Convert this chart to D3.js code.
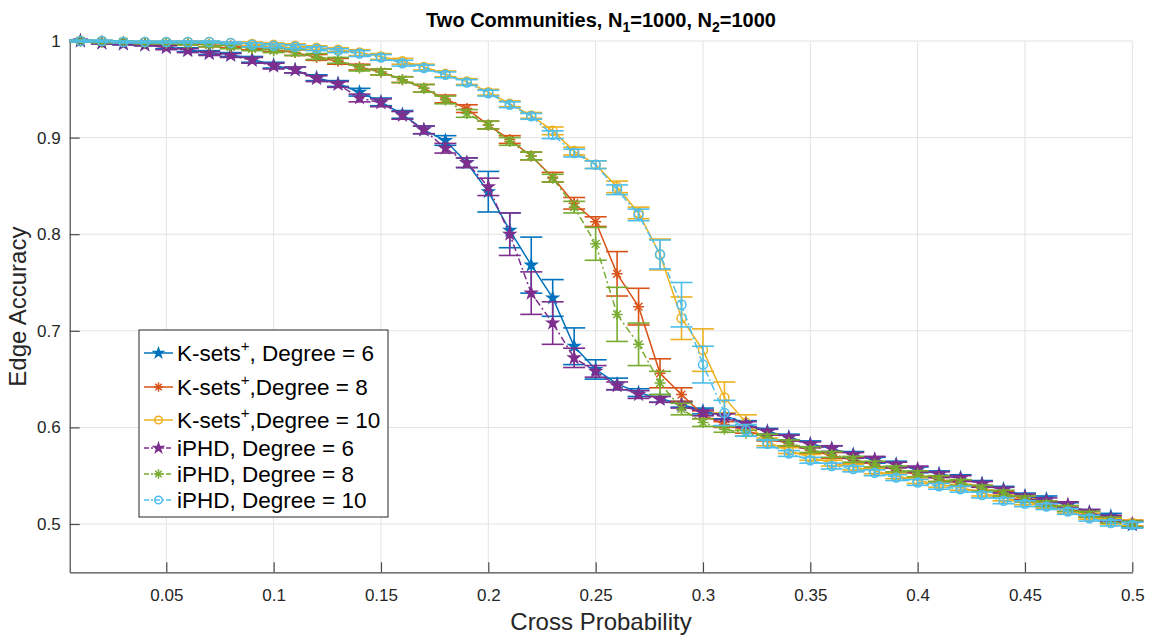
<!DOCTYPE html>
<html><head><meta charset="utf-8">
<script src="https://cdn.jsdelivr.net/npm/d3@7"></script>
<style>body{margin:0;background:#fff}svg{display:block}text{font-family:"Liberation Sans",Arial,Helvetica,sans-serif}</style>
</head><body><svg id="c" width="1151" height="635"></svg>
<script>
const xValues = [0.01,0.02,0.03,0.04,0.05,0.06,0.07,0.08,0.09,0.10,0.11,0.12,0.13,0.14,0.15,0.16,0.17,0.18,0.19,0.20,0.21,0.22,0.23,0.24,0.25,0.26,0.27,0.28,0.29,0.30,0.31,0.32,0.33,0.34,0.35,0.36,0.37,0.38,0.39,0.40,0.41,0.42,0.43,0.44,0.45,0.46,0.47,0.48,0.49,0.50];
const kset6 = [1.000,0.998,0.997,0.996,0.994,0.991,0.988,0.986,0.981,0.975,0.970,0.962,0.956,0.947,0.937,0.924,0.908,0.897,0.874,0.844,0.804,0.768,0.734,0.684,0.660,0.645,0.636,0.630,0.624,0.617,0.612,0.604,0.596,0.590,0.583,0.578,0.572,0.566,0.562,0.556,0.552,0.548,0.542,0.536,0.529,0.526,0.519,0.512,0.508,0.499];
const kset6Err = [0.001,0.001,0.001,0.001,0.002,0.002,0.002,0.002,0.003,0.003,0.003,0.003,0.003,0.004,0.004,0.004,0.004,0.005,0.005,0.021,0.018,0.029,0.019,0.019,0.010,0.006,0.004,0.004,0.003,0.003,0.003,0.003,0.003,0.003,0.003,0.003,0.003,0.003,0.003,0.003,0.003,0.003,0.003,0.003,0.003,0.003,0.003,0.003,0.003,0.003];
const kset8 = [1.000,0.999,0.999,0.998,0.998,0.997,0.996,0.995,0.993,0.991,0.988,0.983,0.979,0.973,0.968,0.960,0.951,0.940,0.930,0.913,0.898,0.881,0.859,0.832,0.813,0.759,0.725,0.656,0.634,0.613,0.603,0.597,0.589,0.583,0.576,0.571,0.566,0.561,0.556,0.551,0.546,0.542,0.537,0.531,0.526,0.521,0.516,0.510,0.505,0.501];
const kset8Err = [0.001,0.001,0.001,0.001,0.001,0.001,0.002,0.002,0.002,0.002,0.003,0.003,0.003,0.003,0.003,0.003,0.004,0.004,0.004,0.004,0.004,0.004,0.005,0.006,0.005,0.023,0.019,0.015,0.007,0.004,0.003,0.003,0.003,0.003,0.003,0.003,0.003,0.003,0.003,0.003,0.003,0.003,0.003,0.003,0.003,0.003,0.003,0.003,0.003,0.003];
const kset10 = [1.000,1.000,0.999,0.999,0.999,0.999,0.999,0.998,0.997,0.996,0.995,0.993,0.991,0.988,0.984,0.979,0.973,0.966,0.958,0.947,0.935,0.923,0.907,0.886,0.872,0.849,0.822,0.779,0.713,0.680,0.631,0.605,0.585,0.576,0.569,0.563,0.559,0.555,0.550,0.545,0.541,0.538,0.532,0.527,0.523,0.519,0.514,0.508,0.503,0.501];
const kset10Err = [0.001,0.001,0.001,0.001,0.001,0.001,0.001,0.001,0.002,0.002,0.002,0.002,0.002,0.003,0.003,0.003,0.003,0.003,0.003,0.003,0.003,0.003,0.004,0.004,0.004,0.006,0.006,0.016,0.022,0.022,0.016,0.008,0.004,0.003,0.003,0.003,0.003,0.003,0.003,0.003,0.003,0.003,0.003,0.003,0.003,0.003,0.003,0.003,0.003,0.003];
const iphd6 = [1.000,0.998,0.997,0.996,0.993,0.990,0.987,0.985,0.980,0.974,0.970,0.961,0.955,0.941,0.936,0.923,0.908,0.889,0.874,0.849,0.800,0.739,0.708,0.672,0.658,0.643,0.634,0.629,0.623,0.615,0.611,0.603,0.595,0.589,0.582,0.578,0.571,0.567,0.561,0.557,0.551,0.547,0.541,0.535,0.528,0.524,0.520,0.512,0.506,0.500];
const iphd6Err = [0.001,0.001,0.001,0.001,0.002,0.002,0.002,0.002,0.003,0.003,0.003,0.003,0.003,0.004,0.004,0.004,0.004,0.005,0.005,0.009,0.022,0.022,0.022,0.010,0.006,0.004,0.004,0.003,0.003,0.003,0.003,0.003,0.003,0.003,0.003,0.003,0.003,0.003,0.003,0.003,0.003,0.003,0.003,0.003,0.003,0.003,0.003,0.003,0.003,0.003];
const iphd8 = [1.000,0.999,0.999,0.998,0.998,0.997,0.996,0.994,0.992,0.990,0.988,0.984,0.980,0.972,0.968,0.960,0.951,0.939,0.925,0.913,0.896,0.881,0.858,0.828,0.790,0.717,0.686,0.646,0.619,0.605,0.598,0.594,0.590,0.584,0.577,0.572,0.567,0.562,0.557,0.552,0.547,0.543,0.537,0.532,0.526,0.521,0.516,0.510,0.504,0.500];
const iphd8Err = [0.001,0.001,0.001,0.001,0.001,0.001,0.002,0.002,0.002,0.002,0.003,0.003,0.003,0.003,0.003,0.003,0.004,0.004,0.004,0.004,0.004,0.004,0.004,0.006,0.017,0.028,0.022,0.012,0.006,0.004,0.003,0.003,0.003,0.003,0.003,0.003,0.003,0.003,0.003,0.003,0.003,0.003,0.003,0.003,0.003,0.003,0.003,0.003,0.003,0.003];
const iphd10 = [1.000,1.000,0.999,0.999,0.999,0.999,0.999,0.998,0.996,0.995,0.994,0.992,0.990,0.987,0.983,0.977,0.972,0.965,0.957,0.946,0.934,0.922,0.903,0.884,0.872,0.846,0.820,0.779,0.727,0.665,0.615,0.597,0.583,0.573,0.566,0.560,0.557,0.553,0.548,0.543,0.539,0.536,0.530,0.524,0.521,0.518,0.513,0.506,0.501,0.499];
const iphd10Err = [0.001,0.001,0.001,0.001,0.001,0.001,0.001,0.001,0.002,0.002,0.002,0.002,0.002,0.003,0.003,0.003,0.003,0.003,0.003,0.003,0.003,0.003,0.004,0.004,0.004,0.005,0.006,0.015,0.023,0.019,0.013,0.006,0.004,0.003,0.003,0.003,0.003,0.003,0.003,0.003,0.003,0.003,0.003,0.003,0.003,0.003,0.003,0.003,0.003,0.003];
const xTicks = [0.05,0.1,0.15,0.2,0.25,0.3,0.35,0.4,0.45,0.5];
const xTickLabels = ["0.05","0.1","0.15","0.2","0.25","0.3","0.35","0.4","0.45","0.5"];
const yTicks = [0.5,0.6,0.7,0.8,0.9,1];
const yTickLabels = ["0.5","0.6","0.7","0.8","0.9","1"];
const seriesNames = ["K-sets|, Degree = 6","K-sets|,Degree = 8","K-sets|,Degree = 10","iPHD, Degree = 6","iPHD, Degree = 8","iPHD, Degree = 10"];

const series = [
  {name:seriesNames[0], y:kset6, e:kset6Err, color:"#0072BD", marker:"star", dash:null},
  {name:seriesNames[1], y:kset8, e:kset8Err, color:"#D95319", marker:"asterisk", dash:null},
  {name:seriesNames[2], y:kset10, e:kset10Err, color:"#EDB120", marker:"circle", dash:null},
  {name:seriesNames[3], y:iphd6, e:iphd6Err, color:"#7E2F8E", marker:"star", dash:"7,3,2,3"},
  {name:seriesNames[4], y:iphd8, e:iphd8Err, color:"#77AC30", marker:"asterisk", dash:"7,3,2,3"},
  {name:seriesNames[5], y:iphd10, e:iphd10Err, color:"#4DBEEE", marker:"circle", dash:"7,3,2,3"}
];

const L = 69.7, R = 1132.3, T = 41, B = 572.3;
const x = d3.scaleLinear().domain([0.005, 0.5]).range([L, R]);
const y = d3.scaleLinear().domain([0.45, 1]).range([B, T]);
const svg = d3.select("#c");

// grid
const g = svg.append("g");
g.selectAll(".gx").data(xTicks).enter().append("line")
  .attr("x1", d=>x(d)).attr("x2", d=>x(d)).attr("y1", T).attr("y2", B)
  .attr("stroke", "#e3e3e3").attr("stroke-width", 1);
g.selectAll(".gy").data(yTicks).enter().append("line")
  .attr("x1", L).attr("x2", R).attr("y1", d=>y(d)).attr("y2", d=>y(d))
  .attr("stroke", "#e3e3e3").attr("stroke-width", 1);

// axes
const xAxis = d3.axisBottom(x).tickValues(xTicks).tickFormat((d,i)=>xTickLabels[i]).tickSizeInner(-10).tickSizeOuter(0).tickPadding(13);
const yAxis = d3.axisLeft(y).tickValues(yTicks).tickFormat((d,i)=>yTickLabels[i]).tickSizeInner(-10).tickSizeOuter(0).tickPadding(9);
const gx = svg.append("g").attr("transform", `translate(0,${B})`).call(xAxis);
const gy = svg.append("g").attr("transform", `translate(${L},0)`).call(yAxis);
[gx, gy].forEach(a => {
  a.select(".domain").attr("stroke", "#4a4a4a").attr("stroke-width", 1.2);
  a.selectAll(".tick line").attr("stroke", "#4a4a4a").attr("stroke-width", 1.2);
  a.selectAll(".tick text").attr("fill", "#262626").style("font-size", "17px").style("font-family", '"Liberation Sans",Arial,sans-serif');
});
gx.selectAll(".tick text").attr("dy", "0.95em");

function markerPath(type, r) {
  if (type === "star") return d3.symbol(d3.symbolStar, r * r * 1.1)();
  if (type === "circle") return d3.symbol(d3.symbolCircle, Math.PI * r * r)();
  const a = r * 0.7071;
  return `M${-r},0L${r},0M0,${-r}L0,${r}M${-a},${-a}L${a},${a}M${-a},${a}L${a},${-a}`;
}
function drawMarker(sel, s, px, py, k) {
  const sc = k || 1;
  const p = sel.append("path").attr("d", markerPath(s.marker, (s.marker === "star" ? 5.8 : (s.marker === "circle" ? 4.5 : 5.5)) * sc))
    .attr("transform", `translate(${px},${py})`).attr("stroke", s.color).attr("stroke-width", 1.5);
  if (s.marker === "star") p.attr("fill", s.color); else p.attr("fill", "none");
}

const plot = svg.append("g");
const line = d3.line().x((d,i)=>x(xValues[i])).y(d=>y(d));
series.forEach(s => {
  const gs = plot.append("g");
  s.y.forEach((v,i) => {
    const px = x(xValues[i]);
    const y1 = y(v - s.e[i]), y2 = y(v + s.e[i]);
    gs.append("line").attr("x1", px).attr("x2", px).attr("y1", y1).attr("y2", y2).attr("stroke", s.color).attr("stroke-width", 1.6);
    gs.append("line").attr("x1", px - 11).attr("x2", px + 11).attr("y1", y1).attr("y2", y1).attr("stroke", s.color).attr("stroke-width", 1.6);
    gs.append("line").attr("x1", px - 11).attr("x2", px + 11).attr("y1", y2).attr("y2", y2).attr("stroke", s.color).attr("stroke-width", 1.6);
  });
  gs.append("path").datum(s.y).attr("d", line).attr("fill", "none").attr("stroke", s.color).attr("stroke-width", 1.5)
    .attr("stroke-dasharray", s.dash);
  s.y.forEach((v,i) => drawMarker(gs, s, x(xValues[i]), y(v)));
});

// title
const title = svg.append("text").attr("x", (L + R) / 2).attr("y", 27).attr("text-anchor", "middle")
  .style("font-size", "20px").style("font-weight", "bold").attr("fill", "#000");
title.append("tspan").text("Two Communities, N");
title.append("tspan").attr("dy", 5).style("font-size", "14px").text("1");
title.append("tspan").attr("dy", -5).text("=1000, N");
title.append("tspan").attr("dy", 5).style("font-size", "14px").text("2");
title.append("tspan").attr("dy", -5).text("=1000");

// axis labels
svg.append("text").attr("x", (L + R) / 2).attr("y", 630).attr("text-anchor", "middle")
  .style("font-size", "24px").attr("fill", "#262626").text("Cross Probability");
svg.append("text").attr("transform", `translate(26,${(T + B) / 2}) rotate(-90)`).attr("text-anchor", "middle")
  .style("font-size", "24px").attr("fill", "#262626").text("Edge Accuracy");

// legend
const lg = svg.append("g");
lg.append("rect").attr("x", 139).attr("y", 330).attr("width", 249).attr("height", 187)
  .attr("fill", "#fff").attr("stroke", "#262626").attr("stroke-width", 1);
const rowY = [353, 387, 420, 448, 474, 500];
series.forEach((s, i) => {
  const yy = rowY[i];
  lg.append("line").attr("x1", 144).attr("x2", 173).attr("y1", yy).attr("y2", yy)
    .attr("stroke", s.color).attr("stroke-width", 1.5).attr("stroke-dasharray", s.dash ? "5,2,2,2" : null);
  drawMarker(lg, s, 158.5, yy, 0.85);
  const t = lg.append("text").attr("x", 177).attr("y", yy + 8).style("font-size", "22.5px").attr("fill", "#000");
  const parts = s.name.split("|");
  if (parts.length > 1) {
    t.append("tspan").text(parts[0]);
    t.append("tspan").attr("dy", -10).style("font-size", "15px").text("+");
    t.append("tspan").attr("dy", 10).text(parts[1]);
  } else {
    t.text(s.name);
  }
});
</script></body></html>
